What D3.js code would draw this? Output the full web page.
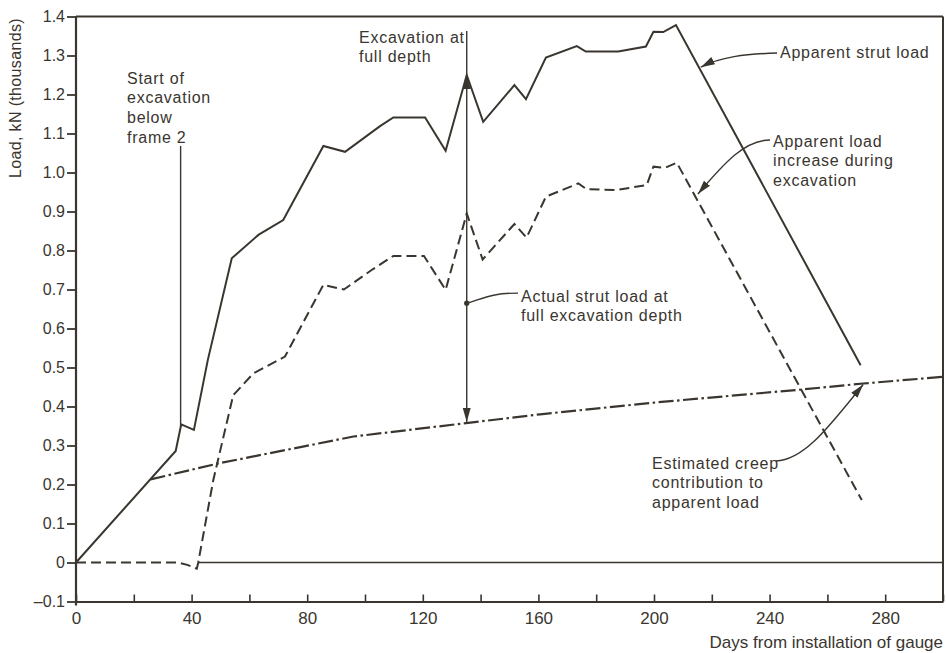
<!DOCTYPE html>
<html>
<head>
<meta charset="utf-8">
<script src="https://cdn.jsdelivr.net/npm/d3@7"></script>
<style>
  html, body { margin: 0; padding: 0; background: #fff; }
  svg { display: block; }
  text { font-family: "Liberation Sans", Arial, Helvetica, sans-serif; fill: #3a362f; }
  .note { font-size: 16px; letter-spacing: 0.75px; }
  .narrow { font-family: "Liberation Sans Narrow", "Liberation Sans", Arial, sans-serif; }
</style>
</head>
<body>
<svg id="chart" width="946" height="653"></svg>
<script>
// Apparent strut load (solid line), kN thousands vs days
const strutDays  = [0, 34.5, 36.4, 40.8, 45.6, 53.9, 63.1, 71.7, 85.6, 93.1, 105.2, 109.8, 120.8, 127.9, 135.2, 140.9, 151.7, 155.7, 162.6, 173.3, 176.4, 187.6, 197.2, 199.8, 203.2, 207.6, 271.5];
const strutLoads = [0, 0.286, 0.354, 0.340, 0.519, 0.780, 0.840, 0.878, 1.068, 1.053, 1.119, 1.141, 1.141, 1.056, 1.250, 1.130, 1.224, 1.188, 1.295, 1.324, 1.310, 1.310, 1.323, 1.361, 1.360, 1.378, 0.506];

// Apparent load increase during excavation (dashed line)
const increaseDays  = [0, 35.4, 38.5, 41.8, 42.3, 47.5, 54.4, 61.4, 72.3, 85.6, 92.7, 102.3, 109.8, 120.4, 127.9, 135.2, 140.7, 151.7, 155.9, 162.6, 173.8, 176.7, 187.0, 197.5, 199.8, 203.8, 207.9, 271.9];
const increaseLoads = [0, 0, -0.006, -0.016, 0, 0.211, 0.429, 0.485, 0.528, 0.712, 0.700, 0.750, 0.786, 0.786, 0.699, 0.895, 0.777, 0.868, 0.833, 0.938, 0.972, 0.957, 0.955, 0.968, 1.015, 1.012, 1.025, 0.160];

// Estimated creep contribution (dash-dot line)
const creepDays  = [25.8, 49.2, 96.0, 135.7, 160.6, 200.0, 251.7, 272.4, 300];
const creepLoads = [0.213, 0.254, 0.323, 0.358, 0.380, 0.410, 0.444, 0.459, 0.476];

// Axis ticks
const xTickValues = [0, 20, 40, 60, 80, 100, 120, 140, 160, 180, 200, 220, 240, 260, 280, 300];
const xTickLabels = ["0", "", "40", "", "80", "", "120", "", "160", "", "200", "", "240", "", "280", ""];
const yTickValues = [-0.1, 0, 0.1, 0.2, 0.3, 0.4, 0.5, 0.6, 0.7, 0.8, 0.9, 1.0, 1.1, 1.2, 1.3, 1.4];
const yTickLabels = ["\u20130.1", "0", "0.1", "0.2", "0.3", "0.4", "0.5", "0.6", "0.7", "0.8", "0.9", "1.0", "1.1", "1.2", "1.3", "1.4"];

// Key events (days) and the loads they point at
const startExcavationDay = 36.2;
const fullDepthDay = 135.2;
const actualLoadAtFullDepth = 0.665;
const strutArrowAt = [216.2, 1.27];
const increaseArrowAt = [215.2, 0.945];
const creepArrowAt = [272.4, 0.459];

const ink = "#3a362f";
const svg = d3.select("#chart");
const x = d3.scaleLinear().domain([0, 300]).range([76, 943]);
const y = d3.scaleLinear().domain([-0.1, 1.4]).range([601.5, 16.5]);

// arrowhead marker
const defs = svg.append("defs");
defs.append("marker")
  .attr("id", "arrow")
  .attr("markerUnits", "userSpaceOnUse")
  .attr("viewBox", "-14 -5 15 10")
  .attr("refX", 0).attr("refY", 0)
  .attr("markerWidth", 15).attr("markerHeight", 10)
  .attr("orient", "auto")
  .append("path")
  .attr("d", "M0,0 L-14,-4 L-14,4 Z")
  .attr("fill", ink);

// Frame
const g = svg.append("g");
g.append("line").attr("x1", x(0)).attr("x2", x(300)).attr("y1", y(1.4)).attr("y2", y(1.4))
  .attr("stroke", ink).attr("stroke-width", 2);
g.append("line").attr("x1", x(300)).attr("x2", x(300)).attr("y1", y(1.4)).attr("y2", y(-0.1))
  .attr("stroke", ink).attr("stroke-width", 2);

// Y axis
const yAxis = d3.axisLeft(y)
  .tickValues(yTickValues)
  .tickFormat((d, i) => yTickLabels[i])
  .tickSize(9).tickPadding(2).tickSizeOuter(0);
const gy = svg.append("g").attr("transform", `translate(${x(0)},0)`).call(yAxis);
gy.select(".domain").attr("stroke", ink).attr("stroke-width", 2.2)
  .attr("d", `M0,${y(1.4)}V${y(-0.1) + 4}`);
gy.selectAll(".tick line").attr("stroke", ink).attr("stroke-width", 1.8);
gy.selectAll(".tick text").attr("font-size", 16).attr("fill", ink)
  .style("font-family", '"Liberation Sans", Arial, sans-serif');

// X axis (ticks point up into the plot)
const xAxis = d3.axisBottom(x)
  .tickValues(xTickValues)
  .tickFormat((d, i) => xTickLabels[i])
  .tickSize(-7).tickPadding(10).tickSizeOuter(0);
const gx = svg.append("g").attr("transform", `translate(0,${y(-0.1)})`).call(xAxis);
gx.select(".domain").attr("stroke", ink).attr("stroke-width", 2.2);
gx.selectAll(".tick line").attr("stroke", ink).attr("stroke-width", 1.6);
gx.selectAll(".tick text").attr("font-size", 17).attr("fill", ink).attr("class", "narrow");

// Axis titles
svg.append("text")
  .attr("transform", `translate(21,98) rotate(-90)`)
  .attr("text-anchor", "middle")
  .attr("font-size", 16).style("letter-spacing", "0.35px")
  .text("Load, kN (thousands)");
svg.append("text")
  .attr("class", "narrow")
  .attr("x", x(300)).attr("y", 648)
  .attr("text-anchor", "end")
  .attr("font-size", 17)
  .text("Days from installation of gauge");

// Zero line
svg.append("line")
  .attr("x1", x(42.3)).attr("x2", x(300)).attr("y1", y(0)).attr("y2", y(0))
  .attr("stroke", ink).attr("stroke-width", 1.5);

// Series
const line = d3.line().x(d => x(d[0])).y(d => y(d[1]));
const zip = (a, b) => a.map((v, i) => [v, b[i]]);

svg.append("path").datum(zip(creepDays, creepLoads))
  .attr("d", line).attr("fill", "none").attr("stroke", ink)
  .attr("stroke-width", 2.2).attr("stroke-dasharray", "15,3.5,2.5,3.5");

svg.append("path").datum(zip(increaseDays, increaseLoads))
  .attr("d", line).attr("fill", "none").attr("stroke", ink)
  .attr("stroke-width", 2).attr("stroke-dasharray", "10,5");

svg.append("path").datum(zip(strutDays, strutLoads))
  .attr("d", line).attr("fill", "none").attr("stroke", ink)
  .attr("stroke-width", 2).attr("stroke-linejoin", "miter");

// Start of excavation marker line
const startIdx = 2;
svg.append("line")
  .attr("x1", x(startExcavationDay)).attr("x2", x(startExcavationDay))
  .attr("y1", 146).attr("y2", y(strutLoads[startIdx]) + 2)
  .attr("stroke", ink).attr("stroke-width", 1.4);

// Full depth marker: thin line above the peak, double arrow from creep to peak
const peakLoad = strutLoads[strutDays.indexOf(fullDepthDay)];
const creepAtFull = creepLoads[3];
svg.append("line")
  .attr("x1", x(fullDepthDay)).attr("x2", x(fullDepthDay))
  .attr("y1", 31).attr("y2", y(peakLoad))
  .attr("stroke", ink).attr("stroke-width", 1.4);
svg.append("line")
  .attr("x1", x(fullDepthDay)).attr("x2", x(fullDepthDay))
  .attr("y1", y(actualLoadAtFullDepth)).attr("y2", y(peakLoad))
  .attr("stroke", ink).attr("stroke-width", 1.4)
  .attr("marker-end", "url(#arrow)");
svg.append("line")
  .attr("x1", x(fullDepthDay)).attr("x2", x(fullDepthDay))
  .attr("y1", y(actualLoadAtFullDepth)).attr("y2", y(creepAtFull) - 1)
  .attr("stroke", ink).attr("stroke-width", 1.4)
  .attr("marker-end", "url(#arrow)");
svg.append("circle")
  .attr("cx", x(fullDepthDay)).attr("cy", y(actualLoadAtFullDepth)).attr("r", 2.6)
  .attr("fill", ink);

// Leader lines
function leader(p) {
  return svg.append("path").attr("d", p.toString()).attr("fill", "none")
    .attr("stroke", ink).attr("stroke-width", 1.4);
}
{
  const p = d3.path();
  const dx = x(fullDepthDay), dy = y(actualLoadAtFullDepth);
  p.moveTo(dx, dy);
  p.bezierCurveTo(dx + 20, dy - 6, dx + 26, dy - 10, 518, dy - 10);
  leader(p);
}
{
  const p = d3.path();
  p.moveTo(777, 53);
  p.bezierCurveTo(745, 54, 720, 57, x(strutArrowAt[0]), y(strutArrowAt[1]));
  leader(p).attr("marker-end", "url(#arrow)");
}
{
  const p = d3.path();
  p.moveTo(770, 140);
  p.bezierCurveTo(745, 140, 725, 162, x(increaseArrowAt[0]), y(increaseArrowAt[1]));
  leader(p).attr("marker-end", "url(#arrow)");
}
{
  const p = d3.path();
  p.moveTo(776, 461);
  p.bezierCurveTo(805, 460, 830, 425, x(creepArrowAt[0]), y(creepArrowAt[1]) + 1);
  leader(p).attr("marker-end", "url(#arrow)");
}

// Notes
function note(xPos, yPos, lines) {
  const t = svg.append("text").attr("class", "note").attr("x", xPos).attr("y", yPos);
  lines.forEach((s, i) => t.append("tspan").attr("x", xPos).attr("dy", i === 0 ? 0 : 19.8).text(s));
}
note(127, 83.5, ["Start of", "excavation", "below", "frame 2"]);
note(359, 42.5, ["Excavation at", "full depth"]);
note(780, 57.5, ["Apparent strut load"]);
note(773, 146.5, ["Apparent load", "increase during", "excavation"]);
note(521, 301.5, ["Actual strut load at", "full excavation depth"]);
note(652, 468.5, ["Estimated creep", "contribution to", "apparent load"]);
</script>
</body>
</html>
